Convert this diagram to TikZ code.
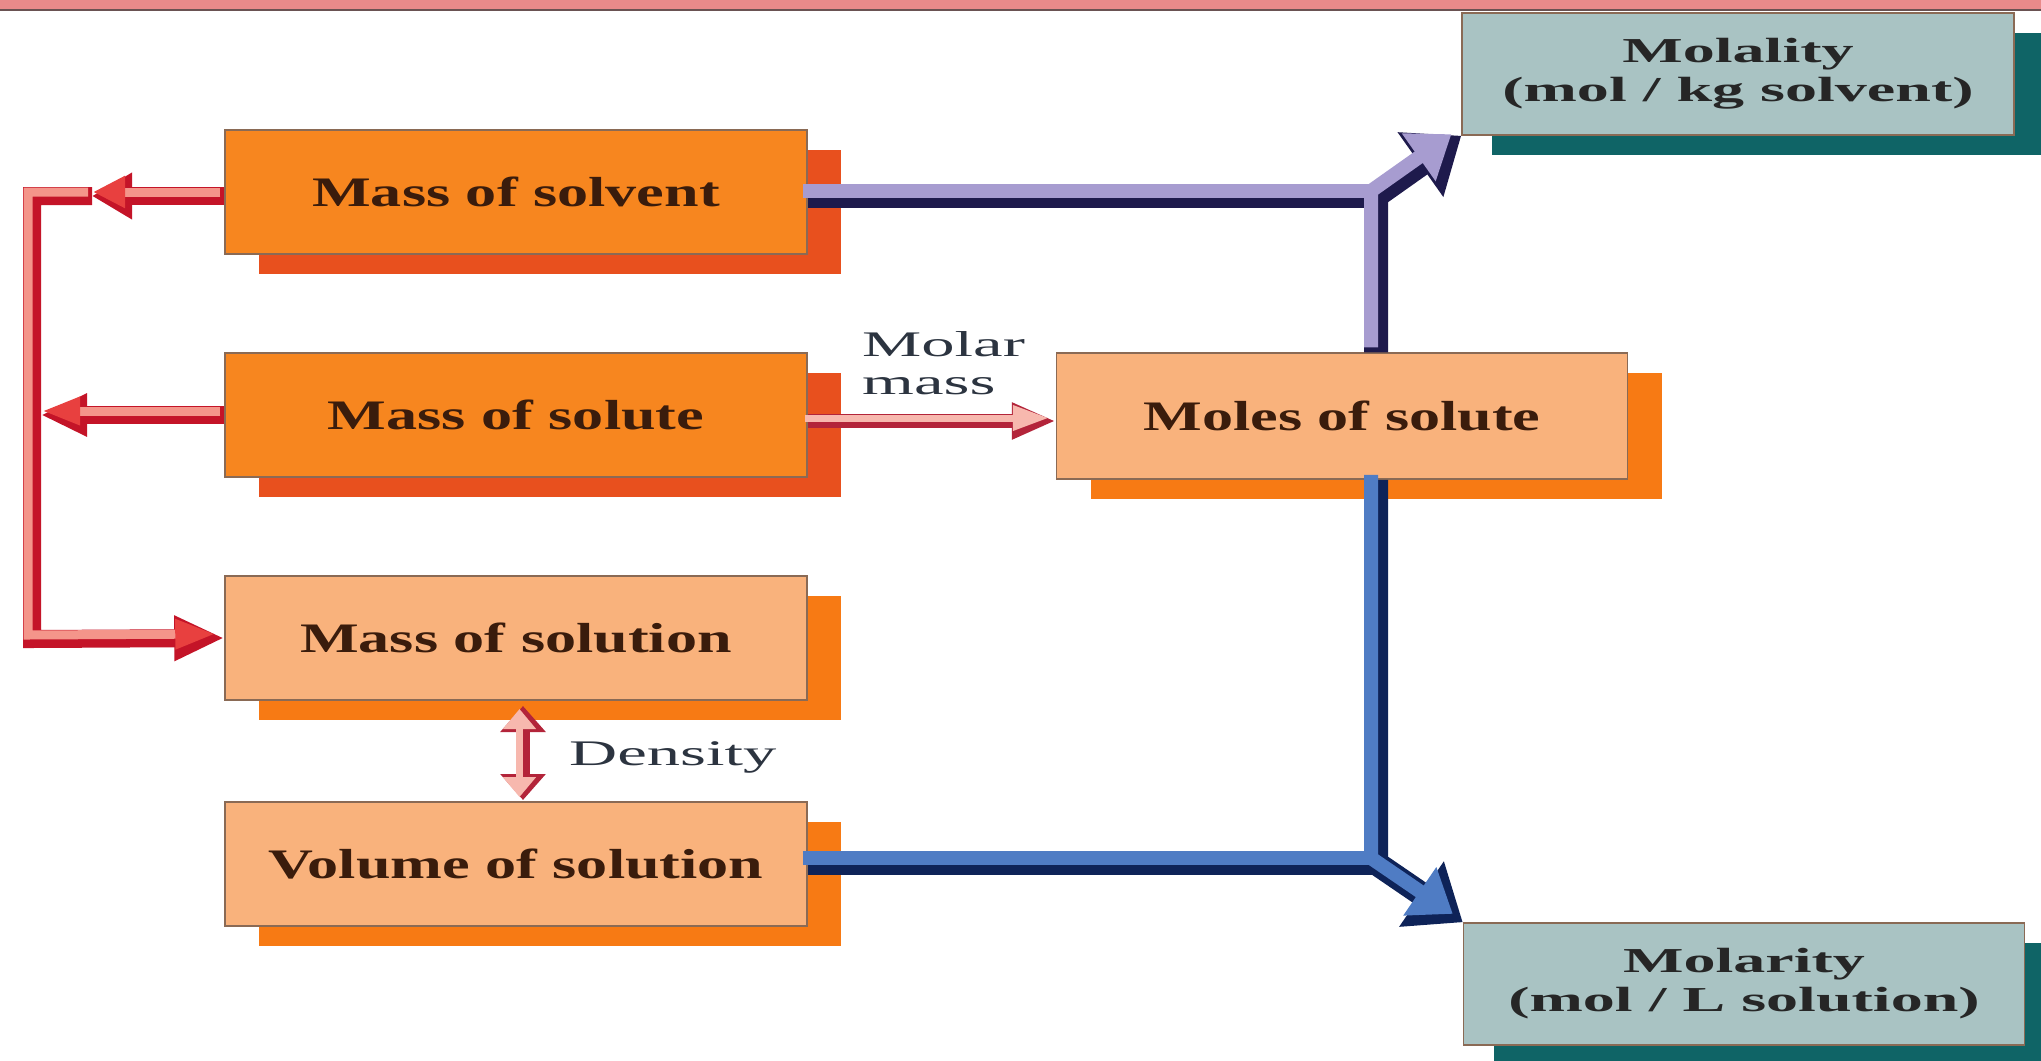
\documentclass[tikz,border=0pt]{standalone}
\usepackage{fontspec}
\setmainfont{Liberation Serif}
\newfontfamily\boxfont[FakeStretch=1.48]{Liberation Serif}
\newfontfamily\unitfont[FakeStretch=1.83]{Liberation Serif}
\newfontfamily\lblfont[FakeStretch=1.85]{Liberation Serif}
\usetikzlibrary{arrows.meta,shadows}
\definecolor{BandPink}{HTML}{E98A8A}
\definecolor{BandLine}{HTML}{6A5252}
\definecolor{BoxEdge}{HTML}{8A6A55}
\definecolor{BoxText}{HTML}{3A1C0C}
\definecolor{HotFill}{HTML}{F7861F}
\definecolor{HotShadow}{HTML}{E8501E}
\definecolor{WarmFill}{HTML}{F9B27C}
\definecolor{WarmShadow}{HTML}{F77A14}
\definecolor{TealFill}{HTML}{A9C3C3}
\definecolor{TealShadow}{HTML}{0F6466}
\definecolor{UnitText}{HTML}{262626}
\definecolor{LblText}{HTML}{2C3440}
\definecolor{RedDark}{HTML}{C41428}
\definecolor{RedMid}{HTML}{E8403F}
\definecolor{RedLight}{HTML}{F4958A}
\definecolor{PinkDark}{HTML}{B3243A}
\definecolor{PinkLight}{HTML}{F7B8AE}
\definecolor{LavDark}{HTML}{1E1A4C}
\definecolor{LavLight}{HTML}{A79CD0}
\definecolor{BlueDark}{HTML}{0E2358}
\definecolor{BlueLight}{HTML}{4F7CC4}
\begin{document}
\begin{tikzpicture}[x=1pt,y=-1pt,
  box/.style={draw=BoxEdge, line width=1.5pt, inner sep=0pt, minimum height=124pt,
    align=center, text=BoxText, font=\boxfont\bfseries\fontsize{42}{44}\selectfont},
  hotbox/.style={box, fill=HotFill, minimum width=582pt,
    drop shadow={shadow xshift=34pt, shadow yshift=-20pt, fill=HotShadow, opacity=1}},
  warmbox/.style={box, fill=WarmFill, minimum width=582pt,
    drop shadow={shadow xshift=34pt, shadow yshift=-20pt, fill=WarmShadow, opacity=1}},
  unitbox/.style={box, fill=TealFill, minimum height=122pt, text=UnitText,
    font=\unitfont\bfseries\fontsize{35}{39}\selectfont,
    drop shadow={shadow xshift=30pt, shadow yshift=-20pt, fill=TealShadow, opacity=1}},
  lbl/.style={font=\lblfont\fontsize{36}{38}\selectfont, text=LblText, inner sep=0pt, align=left},
  rdk/.style={draw=RedDark, line width=18pt},
  rlt/.style={draw=RedLight, line width=9pt, transform canvas={shift={(-4pt,4pt)}}},
  pdk/.style={draw=PinkDark, line width=14pt},
  plt/.style={draw=PinkLight, line width=7pt, transform canvas={shift={(-3pt,3pt)}}},
  ldk/.style={draw=LavDark, line width=24pt},
  llt/.style={draw=LavLight, line width=14pt, transform canvas={shift={(-5pt,5pt)}}},
  bdk/.style={draw=BlueDark, line width=24pt},
  blt/.style={draw=BlueLight, line width=14pt, transform canvas={shift={(-5pt,5pt)}}}
]
\useasboundingbox (0,0) rectangle (2041,1060);
\fill[white] (0,0) rectangle (2041,1060);
\fill[BandPink] (0,0) rectangle (2041,9);
\draw[BandLine, line width=2pt] (0,10) -- (2041,10);

% boxes
\node[hotbox]  (solvent)  at (516,192) {Mass of solvent};
\node[hotbox]  (solute)   at (516,415) {Mass of solute};
\node[warmbox] (solution) at (516,638) {Mass of solution};
\node[warmbox] (volume)   at (516,864) {Volume of solution};
\node[warmbox, minimum width=571pt, minimum height=126pt] (moles) at (1342,416) {Moles of solute};
\node[unitbox, minimum width=552pt] (molality) at (1738,74) {Molality\\(mol / kg solvent)};
\node[unitbox, minimum width=561pt] (molarity) at (1744,984) {Molarity\\(mol / L solution)};

% labels
\node[lbl, anchor=north west] (molar) at (862,331) {Molar\\mass};
\node[lbl, anchor=base west] (dens) at (569,765) {Density};

% helper coordinates
\coordinate (rA) at (32,196);
\coordinate (rB) at (32,639);
\coordinate (rT) at (92,196);
\coordinate (dTop) at (523,706);
\coordinate (dBot) at (523,800);
\coordinate (bU) at (1376,196);
\coordinate (bL) at (1376,863);

% red connectors (dark layer)
\draw[rdk, -{Triangle[length=40pt,width=44pt]}] (solvent.west |- rA) -- (rT);
\draw[rdk, -{Triangle[length=50pt,width=42pt]}] (rT) -- (rA) -- (rB) -- (solution.west);
\draw[rdk, -{Triangle[length=46pt,width=40pt]}, shorten >=9pt] (solute.west) -- (solute.west -| rA);
% red connectors (light layer)
\draw[rlt, -{Triangle[length=32pt,width=30pt,color=RedMid]}, shorten >=5pt] (solvent.west |- rA) -- (rT);
\draw[rlt, -{Triangle[length=40pt,width=28pt,color=RedMid]}, shorten >=5pt] (rT) -- (rA) -- (rB) -- (solution.west);
\draw[rlt, -{Triangle[length=38pt,width=26pt,color=RedMid]}, shorten >=14pt] (solute.west) -- (solute.west -| rA);

% molar mass arrow
\draw[pdk, -{Triangle[length=44pt,width=34pt]}] ([yshift=-6pt]solute.east) -- ([yshift=-6pt]solute.east -| moles.west);
\draw[plt, -{Triangle[length=36pt,width=24pt,color=PinkLight]}, shorten >=4pt] ([yshift=-6pt]solute.east) -- ([yshift=-6pt]solute.east -| moles.west);

% density arrow
\draw[pdk, {Triangle[length=26pt,width=44pt]}-{Triangle[length=26pt,width=44pt]}] (dTop) -- (dBot);
\draw[draw=PinkLight, line width=7pt, transform canvas={shift={(-3.5pt,0pt)}},
  {Triangle[length=20pt,width=32pt,color=PinkLight]}-{Triangle[length=20pt,width=32pt,color=PinkLight]}, shorten <=3pt, shorten >=3pt] (dTop) -- (dBot);

% blue connectors: upper (to molality)
\draw[ldk] (solvent.east |- bU) -- (bU);
\draw[ldk, -{Triangle[length=50pt,width=76pt]}] (bU |- moles.north) -- (bU) -- (molality.south west);
\draw[llt] (solvent.east |- bU) -- (bU);
\draw[llt, -{Triangle[length=40pt,width=56pt,color=LavLight]}, shorten >=6pt] (bU |- moles.north) -- (bU) -- (molality.south west);

% blue connectors: lower (to molarity)
\draw[bdk] (volume.east |- bL) -- (bL);
\draw[bdk, -{Triangle[length=50pt,width=76pt]}] (bU |- moles.south) -- (bL) -- (molarity.north west);
\draw[blt] (volume.east |- bL) -- (bL);
\draw[blt, -{Triangle[length=40pt,width=56pt,color=BlueLight]}, shorten >=6pt] (bU |- moles.south) -- (bL) -- (molarity.north west);
\end{tikzpicture}
\end{document}
